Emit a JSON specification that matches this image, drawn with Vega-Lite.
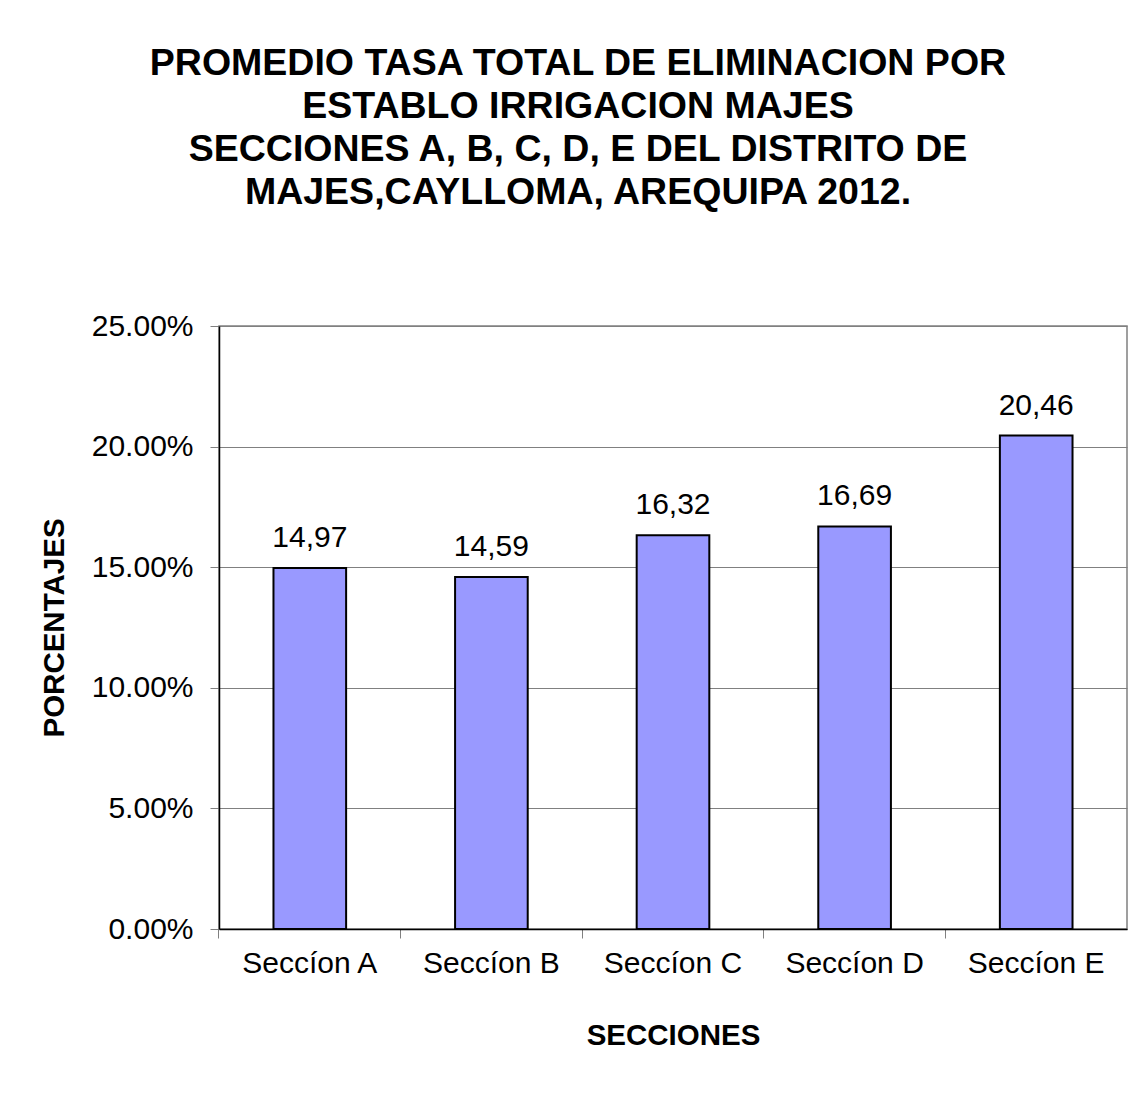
{
  "$schema": "https://vega.github.io/schema/vega-lite/v6.json",
  "width": 908,
  "height": 603,
  "padding": {"left": 39, "top": 44, "right": 5, "bottom": 5},
  "background": "white",
  "title": {
    "text": ["PROMEDIO TASA TOTAL DE ELIMINACION POR", "ESTABLO IRRIGACION MAJES", "SECCIONES A, B, C, D, E DEL DISTRITO DE", "MAJES,CAYLLOMA, AREQUIPA 2012."],
    "font": "Liberation Sans",
    "fontSize": 37.5,
    "fontWeight": "bold",
    "color": "black",
    "lineHeight": 43,
    "anchor": "middle",
    "frame": "group",
    "dx": -95,
    "offset": 100
  },
  "data": {
    "values": [
      {"seccion": "Seccíon A", "tasa": 0.1497, "etiqueta": "14,97"},
      {"seccion": "Seccíon B", "tasa": 0.1459, "etiqueta": "14,59"},
      {"seccion": "Seccíon C", "tasa": 0.1632, "etiqueta": "16,32"},
      {"seccion": "Seccíon D", "tasa": 0.1669, "etiqueta": "16,69"},
      {"seccion": "Seccíon E", "tasa": 0.2046, "etiqueta": "20,46"}
    ]
  },
  "encoding": {
    "x": {
      "field": "seccion",
      "type": "nominal",
      "sort": null,
      "scale": {"paddingInner": 0.6, "paddingOuter": 0.3},
      "axis": {
        "title": "SECCIONES",
        "titleFont": "Liberation Sans",
        "titleFontSize": 29.5,
        "titleFontWeight": "bold",
        "titleColor": "black",
        "titlePadding": 43,
        "labelFont": "Liberation Sans",
        "labelFontSize": 30,
        "labelColor": "black",
        "labelAngle": 0,
        "labelPadding": 10,
        "bandPosition": -0.75,
        "tickSize": 9,
        "tickColor": "#808080",
        "domainColor": "black",
        "domainWidth": 1.5,
        "grid": false
      }
    },
    "y": {
      "field": "tasa",
      "type": "quantitative",
      "scale": {"domain": [0, 0.25]},
      "axis": {
        "title": "PORCENTAJES",
        "titleFont": "Liberation Sans",
        "titleFontSize": 29.5,
        "titleFontWeight": "bold",
        "titleColor": "black",
        "titlePadding": 22,
        "values": [0, 0.05, 0.1, 0.15, 0.2, 0.25],
        "format": ".2%",
        "labelFont": "Liberation Sans",
        "labelFontSize": 30,
        "labelColor": "black",
        "labelPadding": 17,
        "tickSize": 9,
        "tickColor": "#808080",
        "domainColor": "black",
        "domainWidth": 1.5,
        "grid": true,
        "gridColor": "#808080",
        "gridWidth": 1
      }
    }
  },
  "layer": [
    {
      "mark": {"type": "bar", "color": "#9999FF", "stroke": "black", "strokeWidth": 2}
    },
    {
      "mark": {"type": "text", "font": "Liberation Sans", "fontSize": 30, "color": "black", "baseline": "bottom", "dy": -15},
      "encoding": {"text": {"field": "etiqueta", "type": "nominal"}}
    }
  ],
  "config": {
    "view": {"stroke": "#808080", "strokeWidth": 1.5}
  }
}
